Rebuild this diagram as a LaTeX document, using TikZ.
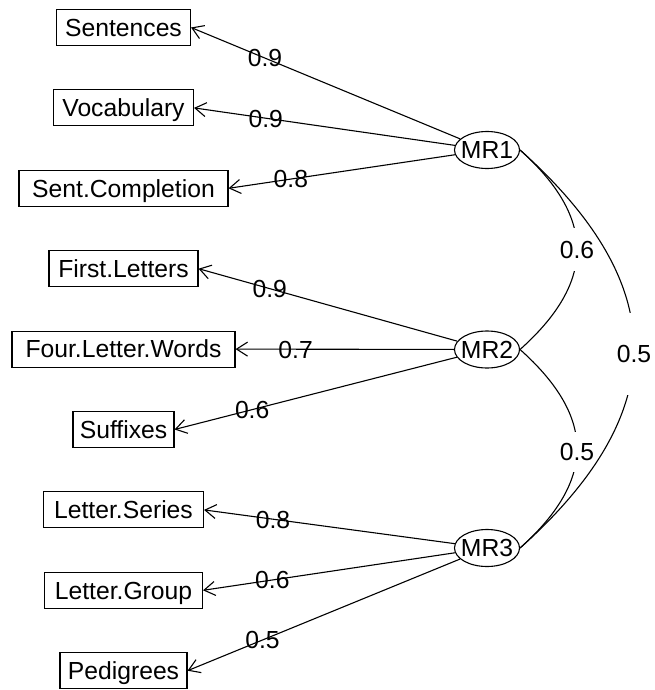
\documentclass[tikz,border=0pt]{standalone}
\usepackage{fontspec}
\setmainfont{Liberation Sans}
\usetikzlibrary{arrows.meta,shapes.geometric}
\begin{document}
\begin{tikzpicture}[x=1pt,y=-1pt,
  every node/.style={font=\fontsize{24.7}{29}\selectfont},
  obs/.style={draw, line width=1.1pt, minimum height=36pt, inner sep=0pt, text height=17.7pt, text depth=0pt},
  fac/.style={draw, ellipse, line width=1.1pt, minimum width=65pt, minimum height=37pt, inner sep=0pt, text height=17.7pt, text depth=0pt},
  load/.style={line width=1.1pt, -{Straight Barb[length=11pt,width=14pt,line width=1.1pt]}},
  lbl/.style={inner sep=0pt, text height=17.7pt, text depth=0pt, pos=0.725},
  corr/.style={line width=1.1pt},
  clbl/.style={fill=white, inner sep=0pt, minimum width=40pt, text height=17.7pt, text depth=0pt}
]
\useasboundingbox (0,0) rectangle (655,690);

% observed variables
\node[obs, minimum width=134pt] (sen) at (123.5,27.5) {Sentences};
\node[obs, minimum width=140pt] (voc) at (123.5,107.9) {Vocabulary};
\node[obs, minimum width=209pt] (sco) at (123.5,188.3) {Sent.Completion};
\node[obs, minimum width=149pt] (fle) at (123.5,268.7) {First.Letters};
\node[obs, minimum width=223pt] (flw) at (123.5,349.1) {Four.Letter.Words};
\node[obs, minimum width=101pt] (suf) at (123.5,429.5) {Suffixes};
\node[obs, minimum width=160pt] (lse) at (123.5,509.9) {Letter.Series};
\node[obs, minimum width=158pt] (lgr) at (123.5,590.3) {Letter.Group};
\node[obs, minimum width=127pt] (ped) at (123.5,670.7) {Pedigrees};

% factors
\node[fac] (MR1) at (487,150) {\makebox[0pt]{MR1}};
\node[fac] (MR2) at (487,349.5) {\makebox[0pt]{MR2}};
\node[fac] (MR3) at (487,548) {\makebox[0pt]{MR3}};

% loadings
\draw[load] (MR1) -- node[lbl]{0.9} (sen.east);
\draw[load] (MR1) -- node[lbl]{0.9} (voc.east);
\draw[load] (MR1) -- node[lbl]{0.8} (sco.east);
\draw[load] (MR2) -- node[lbl]{0.9} (fle.east);
\draw[load] (MR2) -- node[lbl]{0.7} (flw.east);
\draw[load] (MR2) -- node[lbl]{0.6} (suf.east);
\draw[load] (MR3) -- node[lbl]{0.8} (lse.east);
\draw[load] (MR3) -- node[lbl]{0.6} (lgr.east);
\draw[load] (MR3) -- node[lbl]{0.5} (ped.east);

% factor correlations
\draw[corr] (MR1.east) .. controls +(76,68) and +(76,-68) .. node[clbl, midway, minimum height=43pt] (c12) {0.6} (MR2.east);
\draw[corr] (MR2.east) .. controls +(76,68) and +(76,-68) .. node[clbl, midway, minimum height=40pt, yshift=-3pt] (c23) {0.5} (MR3.east);
\draw[corr] (MR1.east) .. controls +(152,136) and +(152,-136) .. node[clbl, midway, minimum height=82pt, yshift=-5pt] (c13) {0.5} (MR3.east);
\end{tikzpicture}
\end{document}
